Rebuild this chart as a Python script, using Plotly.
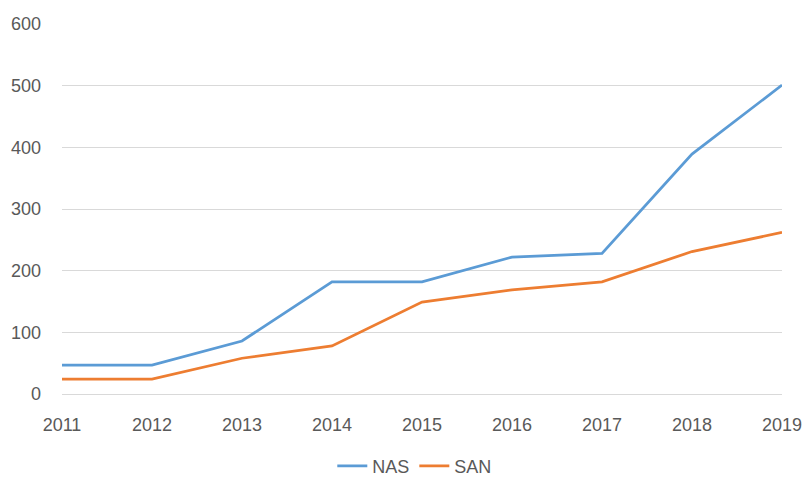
import plotly.graph_objects as go

years = [2011, 2012, 2013, 2014, 2015, 2016, 2017, 2018, 2019]
nas = [47, 47, 86, 182, 182, 222, 228, 389, 501]
san = [24, 24, 58, 78, 149, 169, 182, 231, 262]

fig = go.Figure()
fig.add_trace(go.Scatter(x=years, y=nas, mode="lines", name="NAS",
                         line=dict(color="#5B9BD5", width=2.75)))
fig.add_trace(go.Scatter(x=years, y=san, mode="lines", name="SAN",
                         line=dict(color="#ED7D31", width=2.75)))

font = dict(family="Liberation Sans, Arial, sans-serif", size=18, color="#595959")
fig.update_layout(
    width=803, height=480,
    margin=dict(l=62, r=21, t=24, b=86, autoexpand=False),
    paper_bgcolor="white", plot_bgcolor="white",
    font=font,
    showlegend=True,
    legend=dict(orientation="h", x=0.49, xanchor="center", y=-0.195, yanchor="middle",
                font=dict(size=18, color="#595959"), itemwidth=30, tracegroupgap=0),
    xaxis=dict(range=[2011, 2019], tickvals=years, ticktext=[str(y) for y in years],
               showgrid=False, zeroline=False, showline=True, linecolor="#D9D9D9",
               linewidth=1, ticks="", tickfont=font, ticklabelstandoff=14,
               automargin=False),
    yaxis=dict(range=[0, 600], dtick=100, showgrid=True, gridcolor="#D9D9D9",
               gridwidth=1, zeroline=False, showline=False, ticks="",
               tickfont=font, ticklabelstandoff=20, automargin=False),
)
fig.write_html("out.html", config={"displayModeBar": False},
               post_script="document.body.style.margin='0';document.body.style.overflow='hidden';")
